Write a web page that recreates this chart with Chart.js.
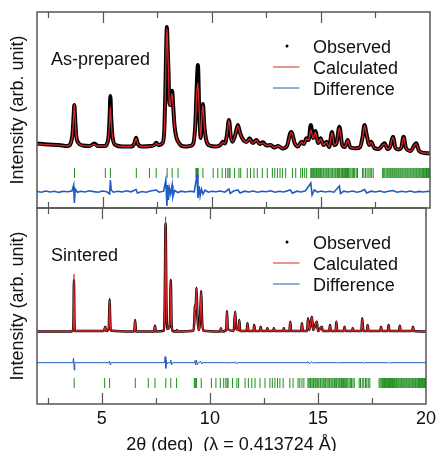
<!DOCTYPE html>
<html lang="en">
<head>
    <meta charset="UTF-8">
    <title>Rietveld refinement: as-prepared vs sintered</title>
    <script src="https://cdn.jsdelivr.net/npm/chart.js"></script>
    <style>
        body { margin: 0; background: #fff; }
        .wrap { position: relative; width: 440px; height: 451px; }
        .wrap canvas { position: absolute; left: 0; top: 0; }
    </style>
</head>
<body>
    <div class="wrap">
        <canvas id="upperChart" width="440" height="451"></canvas>
        <canvas id="lowerChart" width="440" height="451"></canvas>
    </div>

    <script>
        // ---- data (2theta in deg, intensity in arb. units) ----

        // As-prepared: observed / calculated profile
        const upperTheta = [2.00, 2.5, 3.0, 3.4, 3.55, 3.63, 3.68, 3.71, 3.75, 3.8, 3.9, 4.1, 4.4, 4.63, 4.8, 5.1, 5.2, 5.28, 5.33, 5.36, 5.40, 5.46, 5.6, 5.9, 6.3, 6.45, 6.54, 6.62, 6.8, 7.2, 7.38, 7.46, 7.55, 7.75, 7.83, 7.88, 7.92, 7.95, 7.98, 8.02, 8.06, 8.1, 8.15, 8.19, 8.24, 8.3, 8.38, 8.5, 8.6, 8.8, 9.0, 9.15, 9.25, 9.31, 9.37, 9.43, 9.5, 9.55, 9.6, 9.66, 9.75, 9.9, 10.2, 10.4, 10.51, 10.6, 10.7, 10.79, 10.88, 10.95, 11.08, 11.2, 11.3, 11.45, 11.6, 11.74, 11.88, 12.05, 12.2, 12.35, 12.5, 12.7, 12.87, 13.04, 13.25, 13.45, 13.6, 13.66, 13.8, 13.95, 14.11, 14.22, 14.34, 14.44, 14.54, 14.65, 14.75, 14.88, 14.99, 15.12, 15.26, 15.38, 15.51, 15.62, 15.72, 15.85, 15.98, 16.1, 16.23, 16.35, 16.61, 16.8, 16.92, 17.0, 17.1, 17.22, 17.3, 17.45, 17.65, 17.92, 18.05, 18.17, 18.3, 18.42, 18.55, 18.68, 18.79, 18.9, 19.1, 19.37, 19.5, 19.75, 20.0];
        const upperObs = [115, 105, 100, 90, 120, 220, 400, 500, 350, 190, 120, 95, 90, 115, 90, 90, 110, 190, 400, 590, 370, 180, 100, 85, 85, 110, 173, 110, 85, 90, 100, 123, 100, 120, 250, 650, 1100, 1280, 1100, 860, 530, 500, 590, 643, 480, 290, 180, 120, 95, 85, 90, 110, 300, 650, 900, 450, 170, 400, 510, 300, 150, 95, 85, 100, 133, 115, 200, 350, 180, 133, 200, 300, 220, 150, 130, 167, 120, 150, 110, 127, 95, 100, 75, 90, 65, 90, 220, 230, 120, 85, 133, 110, 167, 150, 300, 170, 240, 120, 167, 100, 133, 80, 230, 100, 120, 283, 100, 80, 150, 75, 67, 80, 190, 300, 200, 100, 133, 70, 60, 117, 60, 80, 183, 70, 55, 70, 183, 70, 40, 117, 40, 20, 17];
        const upperCalc = [112, 104, 98, 90, 118, 215, 395, 510, 345, 185, 118, 94, 90, 105, 90, 90, 108, 185, 350, 483, 330, 175, 100, 85, 85, 108, 165, 108, 85, 88, 98, 118, 100, 118, 245, 640, 1090, 1270, 1110, 850, 520, 490, 575, 617, 470, 290, 178, 118, 95, 85, 90, 108, 290, 600, 720, 430, 170, 390, 500, 300, 150, 95, 85, 100, 128, 115, 198, 345, 180, 133, 198, 290, 218, 150, 130, 160, 120, 145, 110, 122, 95, 100, 75, 90, 65, 90, 210, 225, 120, 85, 128, 110, 160, 148, 250, 165, 225, 120, 160, 100, 128, 80, 220, 100, 120, 270, 100, 80, 145, 75, 67, 80, 185, 290, 198, 100, 128, 70, 60, 112, 60, 80, 178, 70, 55, 70, 178, 70, 40, 112, 40, 20, 17];

        // As-prepared: difference curve (already offset below the pattern)
        const upperDiffTheta = [2.0, 2.2, 2.4, 2.6, 2.8, 3.0, 3.2, 3.4, 3.6, 3.68, 3.71, 3.75, 3.85, 4.0, 4.2, 4.4, 4.6, 4.8, 5.0, 5.2, 5.33, 5.36, 5.4, 5.5, 5.7, 5.9, 6.1, 6.3, 6.54, 6.6, 6.8, 7.0, 7.2, 7.46, 7.6, 7.8, 7.9, 7.95, 7.98, 8.02, 8.06, 8.12, 8.19, 8.22, 8.3, 8.45, 8.6, 8.8, 9.0, 9.2, 9.33, 9.37, 9.42, 9.47, 9.53, 9.6, 9.7, 9.85, 10.0, 10.2, 10.4, 10.6, 10.79, 10.85, 11.0, 11.2, 11.3, 11.5, 11.7, 11.9, 12.1, 12.3, 12.5, 12.7, 12.9, 13.1, 13.3, 13.6, 13.7, 13.9, 14.1, 14.3, 14.54, 14.6, 14.7, 14.85, 15.0, 15.2, 15.4, 15.6, 15.85, 15.9, 16.05, 16.25, 16.45, 16.65, 16.85, 17.0, 17.1, 17.3, 17.5, 17.7, 17.9, 18.1, 18.3, 18.5, 18.7, 18.9, 19.1, 19.3, 19.5, 19.7, 19.9, 20.0];
        const upperDiff = [-365, -372, -360, -370, -362, -374, -363, -368, -360, -300, -480, -340, -372, -362, -370, -358, -366, -372, -360, -368, -390, -250, -350, -372, -362, -370, -358, -368, -345, -380, -365, -372, -360, -350, -372, -362, -250, -510, -300, -450, -330, -390, -300, -420, -355, -375, -362, -370, -362, -368, -200, -430, -310, -410, -340, -390, -352, -372, -362, -368, -360, -372, -340, -385, -360, -350, -380, -362, -370, -360, -372, -362, -368, -358, -372, -362, -370, -350, -382, -362, -370, -358, -280, -400, -350, -372, -360, -370, -362, -372, -310, -385, -362, -370, -360, -372, -362, -345, -380, -362, -370, -360, -372, -362, -355, -372, -362, -370, -360, -372, -364, -370, -362, -368];

        // Sintered: observed / calculated profile
        const lowerTheta = [2.0, 3.6, 3.66, 3.69, 3.71, 3.73, 3.76, 5.1, 5.16, 5.2, 5.32, 5.34, 5.36, 5.38, 5.41, 6.5, 6.54, 6.58, 7.42, 7.46, 7.5, 7.88, 7.91, 7.95, 7.99, 8.03, 8.15, 8.19, 8.23, 8.28, 8.44, 8.48, 8.52, 9.25, 9.29, 9.31, 9.34, 9.38, 9.42, 9.47, 9.52, 9.57, 9.6, 9.63, 9.68, 10.47, 10.51, 10.55, 10.76, 10.79, 10.83, 11.1, 11.17, 11.22, 11.33, 11.36, 11.4, 11.7, 11.74, 11.78, 12.02, 12.05, 12.09, 12.32, 12.35, 12.39, 12.63, 12.66, 12.7, 12.93, 12.96, 13.0, 13.39, 13.42, 13.46, 13.68, 13.72, 13.76, 14.22, 14.26, 14.3, 14.5, 14.54, 14.6, 14.72, 14.78, 14.95, 15.0, 15.18, 15.22, 15.52, 15.56, 15.6, 15.82, 15.85, 15.89, 16.2, 16.23, 16.27, 16.58, 16.61, 16.65, 17.01, 17.05, 17.1, 17.27, 17.3, 17.34, 17.88, 17.92, 17.96, 18.23, 18.27, 18.31, 18.75, 18.79, 18.83, 19.36, 19.4, 19.44, 20.0];
        const lowerObs = [35, 35, 45, 150, 550, 150, 40, 40, 83, 40, 60, 200, 357, 200, 45, 35, 150, 35, 35, 93, 35, 45, 300, 1117, 300, 60, 100, 550, 100, 40, 35, 50, 35, 45, 200, 300, 250, 473, 200, 50, 80, 300, 440, 200, 45, 35, 67, 35, 50, 240, 60, 40, 233, 60, 50, 150, 40, 40, 117, 40, 40, 100, 40, 40, 83, 40, 40, 67, 40, 40, 67, 40, 40, 67, 40, 40, 133, 40, 40, 117, 40, 40, 167, 50, 183, 50, 133, 40, 83, 40, 40, 100, 40, 40, 133, 40, 40, 83, 40, 40, 67, 40, 40, 167, 40, 40, 100, 40, 40, 83, 40, 40, 100, 40, 40, 93, 40, 40, 83, 40, 35];
        const lowerCalc = [35, 35, 45, 150, 607, 150, 40, 40, 80, 40, 60, 200, 350, 200, 45, 35, 145, 35, 35, 90, 35, 45, 300, 1183, 300, 60, 100, 540, 100, 40, 35, 50, 35, 45, 200, 295, 250, 465, 200, 50, 80, 295, 435, 200, 45, 35, 65, 35, 50, 236, 60, 40, 230, 60, 50, 146, 40, 40, 115, 40, 40, 98, 40, 40, 82, 40, 40, 66, 40, 40, 66, 40, 40, 66, 40, 40, 130, 40, 40, 115, 40, 40, 163, 50, 180, 50, 130, 40, 82, 40, 40, 98, 40, 40, 130, 40, 40, 82, 40, 40, 66, 40, 40, 163, 40, 40, 98, 40, 40, 82, 40, 40, 98, 40, 40, 92, 40, 40, 82, 40, 35];

        // Sintered: difference curve (offset)
        const lowerDiffTheta = [2.0, 3.66, 3.69, 3.72, 3.75, 3.8, 5.32, 5.35, 5.38, 5.42, 7.9, 7.93, 7.96, 7.99, 8.03, 8.08, 8.17, 8.19, 8.22, 8.26, 9.28, 9.31, 9.34, 9.38, 9.42, 9.47, 9.58, 9.62, 9.66, 10.76, 10.79, 10.83, 10.88, 11.14, 11.17, 11.22, 11.3, 14.5, 14.54, 14.6, 14.72, 14.78, 14.84, 15.82, 15.85, 15.9, 15.95, 17.0, 17.05, 17.1, 17.15, 18.23, 18.27, 18.32, 18.38, 20.0];
        const lowerDiff = [-277, -277, -230, -350, -270, -277, -277, -260, -295, -277, -277, -217, -333, -255, -290, -277, -277, -250, -300, -277, -277, -255, -300, -250, -297, -277, -265, -290, -277, -277, -270, -283, -277, -277, -268, -285, -277, -277, -268, -286, -268, -284, -277, -277, -270, -283, -277, -277, -270, -284, -277, -277, -272, -282, -277, -277];

        // Reflection positions (same phase, both panels)
        const reflTheta = [3.72, 5.13, 5.36, 6.55, 7.15, 7.46, 7.96, 8.19, 8.46, 9.28, 9.31, 9.35, 9.38, 9.6, 10.07, 10.28, 10.48, 10.64, 10.74, 10.8, 10.84, 11.05, 11.25, 11.33, 11.63, 11.78, 11.94, 12.09, 12.32, 12.55, 12.78, 12.89, 13.01, 13.13, 13.24, 13.39, 13.70, 13.85, 14.08, 14.16, 14.26, 14.35,
            14.54, 14.58, 14.63, 14.66, 14.72, 14.77, 14.80, 14.86, 14.90, 14.95, 14.99, 15.04, 15.10, 15.13, 15.19, 15.24, 15.28, 15.33, 15.36, 15.42, 15.47, 15.52, 15.55, 15.61, 15.66, 15.70, 15.76, 15.80, 15.85, 15.88, 15.94, 15.99, 16.03, 16.09, 16.13, 16.18, 16.22, 16.27, 16.33, 16.38, 16.44, 16.50, 16.55, 16.62, 16.68,
            16.91, 16.97, 17.05, 17.12, 17.20, 17.26, 17.33, 17.40,
            17.83, 17.88, 17.93, 17.99, 18.04, 18.08, 18.13, 18.18, 18.22, 18.27, 18.31, 18.36, 18.40, 18.45, 18.49, 18.54, 18.58, 18.63, 18.67, 18.72, 18.76, 18.81, 18.86, 18.90, 18.95, 18.99, 19.04, 19.09, 19.13, 19.18, 19.23, 19.27, 19.32, 19.37, 19.41, 19.46, 19.51, 19.55, 19.60, 19.65, 19.70, 19.74, 19.79, 19.84, 19.88, 19.93, 19.97];

        const xTickValues = [5, 10, 15, 20];

        // ---- styling ----
        const FONT = '"Liberation Sans", Arial, Helvetica, sans-serif';
        const RED = '#d8262b';
        const BLUE = '#1f5cc0';
        const GREEN = '#1f8f1f';
        const FRAME = '#555';

        function pairs(xs, ys) {
            return xs.map((x, i) => ({ x: x, y: ys[i] }));
        }

        // frame, inward ticks, panel label and legend
        const panelDecor = {
            id: 'panelDecor',
            afterDatasetsDraw(chart, args, opts) {
                const ctx = chart.ctx;
                const a = chart.chartArea;
                const x = chart.scales.x;
                ctx.save();
                ctx.strokeStyle = FRAME;
                ctx.lineWidth = 1.5;
                ctx.strokeRect(a.left, a.top, a.right - a.left, a.bottom - a.top);
                ctx.lineWidth = 1.2;
                for (let v = 2.5; v < 20; v += 2.5) {
                    const px = Math.round(x.getPixelForValue(v)) + 0.5;
                    const len = v % 5 === 0 ? 11 : 6;
                    ctx.beginPath();
                    ctx.moveTo(px, a.top);
                    ctx.lineTo(px, a.top + len);
                    ctx.moveTo(px, a.bottom);
                    ctx.lineTo(px, a.bottom - len);
                    ctx.stroke();
                }

                ctx.fillStyle = '#111';
                ctx.font = '18px ' + FONT;
                ctx.textBaseline = 'alphabetic';
                ctx.fillText(opts.label, a.left + 14, a.top + 53);

                const rows = [['Observed', 'dot', '#000'], ['Calculated', 'line', RED], ['Difference', 'line', BLUE]];
                rows.forEach((r, i) => {
                    const by = a.top + 40.5 + i * 21;
                    const my = by - 6.5;
                    if (r[1] === 'dot') {
                        ctx.fillStyle = r[2];
                        ctx.beginPath();
                        ctx.arc(a.left + 250, my, 1.5, 0, Math.PI * 2);
                        ctx.fill();
                    } else {
                        ctx.strokeStyle = r[2];
                        ctx.lineWidth = 1;
                        ctx.beginPath();
                        ctx.moveTo(a.left + 236, my);
                        ctx.lineTo(a.left + 262.5, my);
                        ctx.stroke();
                    }
                    ctx.fillStyle = '#111';
                    ctx.fillText(r[0], a.left + 276, by);
                });
                ctx.restore();
            }
        };

        function makeDatasets(theta, obs, calc, dTheta, diff, reflLevel, obsWidth, diffWidth) {
            return [
                { label: 'Calculated', data: pairs(theta, calc), borderColor: RED, borderWidth: 1.3, pointRadius: 0, cubicInterpolationMode: 'monotone', order: 1 },
                { label: 'Observed', data: pairs(theta, obs), borderColor: '#000', borderWidth: obsWidth, pointRadius: 0, cubicInterpolationMode: 'monotone', order: 2 },
                { label: 'Difference', data: pairs(dTheta, diff), borderColor: BLUE, borderWidth: diffWidth, pointRadius: 0, order: 3 },
                { label: 'Reflections', data: reflTheta.map(t => ({ x: t, y: reflLevel })), showLine: false, pointStyle: 'line', pointRotation: 90, pointRadius: 5, borderColor: GREEN, borderWidth: 1, order: 4 }
            ];
        }

        function yTitle() {
            return { display: true, text: 'Intensity (arb. unit)', color: '#111', font: { family: FONT, size: 18 }, padding: { top: 7, bottom: 0 } };
        }

        new Chart(document.getElementById('upperChart'), {
            type: 'line',
            data: { datasets: makeDatasets(upperTheta, upperObs, upperCalc, upperDiffTheta, upperDiff, -180, 4, 1.6) },
            options: {
                responsive: false,
                animation: false,
                events: [],
                layout: { padding: { top: 12, right: 10, bottom: 243, left: 0 } },
                plugins: { legend: { display: false }, tooltip: { enabled: false }, panelDecor: { label: 'As-prepared' } },
                scales: {
                    x: { type: 'linear', min: 2, max: 20, display: false },
                    y: {
                        min: -530, max: 1430,
                        ticks: { display: false }, grid: { display: false }, border: { display: false },
                        title: yTitle(),
                        afterFit: s => { s.width = 37; }
                    }
                }
            },
            plugins: [panelDecor]
        });

        new Chart(document.getElementById('lowerChart'), {
            type: 'line',
            data: { datasets: makeDatasets(lowerTheta, lowerObs, lowerCalc, lowerDiffTheta, lowerDiff, -480, 2.5, 1) },
            options: {
                responsive: false,
                animation: false,
                events: [],
                layout: { padding: { top: 208, right: 10, bottom: 0, left: 0 } },
                plugins: { legend: { display: false }, tooltip: { enabled: false }, panelDecor: { label: 'Sintered' } },
                scales: {
                    x: {
                        type: 'linear', min: 2, max: 20,
                        grid: { display: false, drawTicks: false }, border: { display: false },
                        afterBuildTicks: s => { s.ticks = xTickValues.map(v => ({ value: v })); },
                        ticks: { color: '#111', font: { family: FONT, size: 18 }, padding: 4, maxRotation: 0 },
                        title: { display: true, text: '2θ (deg)  (λ = 0.413724 Å)', color: '#111', font: { family: FONT, size: 18, lineHeight: 1 }, padding: { top: 0, bottom: -3 } },
                        afterFit: s => { s.height = 47; }
                    },
                    y: {
                        min: -690, max: 1270,
                        ticks: { display: false }, grid: { display: false }, border: { display: false },
                        title: yTitle(),
                        afterFit: s => { s.width = 37; }
                    }
                }
            },
            plugins: [panelDecor]
        });
    </script>
</body>
</html>
